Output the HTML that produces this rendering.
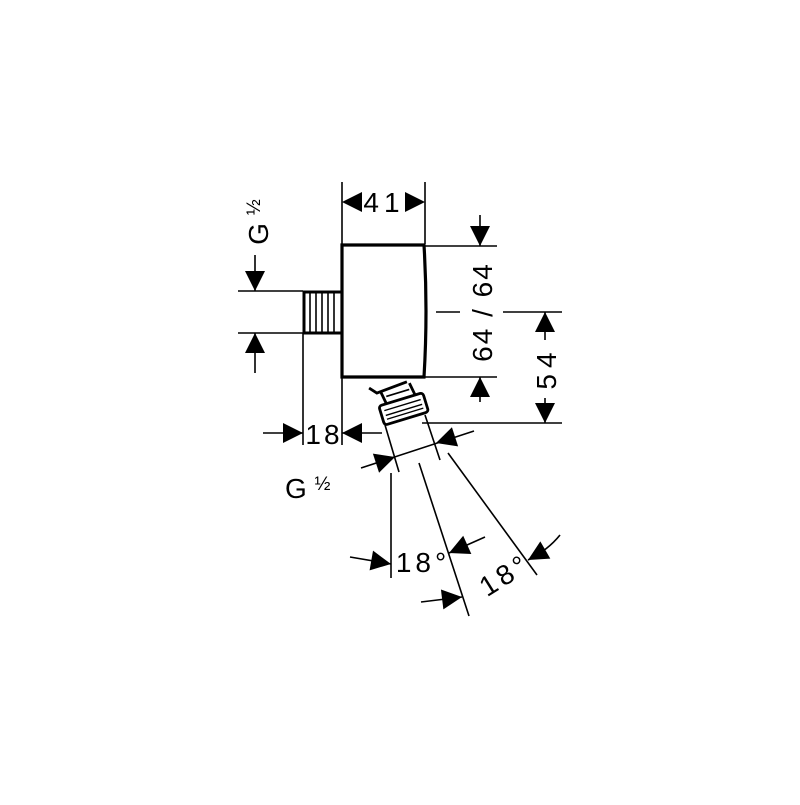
<!DOCTYPE html>
<html><head><style>html,body{margin:0;background:#fff}</style></head><body>
<svg width="800" height="800" viewBox="0 0 800 800" xmlns="http://www.w3.org/2000/svg" font-family="Liberation Sans, sans-serif">
<g stroke="#000" fill="none" stroke-width="1.6">
<path d="M342,245 L424,245 Q428,311 424,377 L342,377 Z" stroke-width="3.2"/>
<rect x="304" y="292" width="38" height="41" stroke-width="3"/>
<line x1="310" y1="293" x2="310" y2="332"/><line x1="316" y1="293" x2="316" y2="332"/><line x1="322" y1="293" x2="322" y2="332"/><line x1="328" y1="293" x2="328" y2="332"/><line x1="334" y1="293" x2="334" y2="332"/>
<g transform="rotate(-17 402 400)" stroke-width="2.8">
<path d="M374,379 L380,386 L412,384"/>
<path d="M384,386 L386,399 M414,386 L416,399"/>
<line x1="388" y1="392" x2="412" y2="392" stroke-width="1.6"/>
<rect x="378" y="399" width="46" height="20" rx="3"/>
<line x1="382" y1="405" x2="420" y2="405" stroke-width="1.4"/>
<line x1="382" y1="410" x2="420" y2="410" stroke-width="1.4"/>
<line x1="382" y1="414" x2="420" y2="414" stroke-width="1.4"/>
</g>
<line x1="342" y1="182" x2="342" y2="244"/><line x1="425" y1="182" x2="425" y2="244"/>
<line x1="425" y1="246" x2="497" y2="246"/><line x1="425" y1="377" x2="497" y2="377"/>
<line x1="480" y1="215" x2="480" y2="246"/>
<line x1="480" y1="402" x2="480" y2="377"/>
<line x1="436" y1="312" x2="460" y2="312"/><line x1="503" y1="312" x2="562" y2="312"/>
<line x1="545" y1="340" x2="545" y2="312"/>
<line x1="545" y1="398" x2="545" y2="423"/>
<line x1="422" y1="423" x2="562" y2="423"/>
<line x1="238" y1="291" x2="303" y2="291"/><line x1="238" y1="333" x2="303" y2="333"/>
<line x1="255" y1="255" x2="255" y2="291"/>
<line x1="255" y1="373" x2="255" y2="333"/>
<line x1="303" y1="333" x2="303" y2="445"/><line x1="342" y1="377" x2="342" y2="445"/>
<line x1="263" y1="433" x2="303" y2="433"/>
<line x1="382" y1="433" x2="342" y2="433"/>
<line x1="385" y1="425" x2="399" y2="472"/>
<line x1="425" y1="415" x2="440" y2="460"/>
<line x1="361" y1="468" x2="474" y2="431"/>
<line x1="391" y1="473" x2="391" y2="578"/>
<line x1="419" y1="463" x2="469" y2="616"/>
<line x1="448" y1="453" x2="537" y2="575"/>
<line x1="350" y1="557" x2="391" y2="564"/>
<line x1="485" y1="537" x2="449" y2="553"/>
<line x1="421" y1="602" x2="462" y2="597"/>
<path d="M560,535 Q548,550 528,560"/>
</g>
<g fill="#000">
<path transform="translate(342,202) rotate(180)" d="M0,0 L-20,-10 L-20,10 Z"/>
<path transform="translate(425,202)" d="M0,0 L-20,-10 L-20,10 Z"/>
<path transform="translate(480,246) rotate(90)" d="M0,0 L-20,-10 L-20,10 Z"/>
<path transform="translate(480,377) rotate(-90)" d="M0,0 L-20,-10 L-20,10 Z"/>
<path transform="translate(545,312) rotate(-90)" d="M0,0 L-20,-10 L-20,10 Z"/>
<path transform="translate(545,423) rotate(90)" d="M0,0 L-20,-10 L-20,10 Z"/>
<path transform="translate(255,291) rotate(90)" d="M0,0 L-20,-10 L-20,10 Z"/>
<path transform="translate(255,333) rotate(-90)" d="M0,0 L-20,-10 L-20,10 Z"/>
<path transform="translate(303,433)" d="M0,0 L-20,-10 L-20,10 Z"/>
<path transform="translate(342,433) rotate(180)" d="M0,0 L-20,-10 L-20,10 Z"/>
<path transform="translate(395,457) rotate(-18)" d="M0,0 L-20,-10 L-20,10 Z"/>
<path transform="translate(436,443) rotate(162)" d="M0,0 L-20,-10 L-20,10 Z"/>
<path transform="translate(391,564) rotate(10)" d="M0,0 L-20,-10 L-20,10 Z"/>
<path transform="translate(449,553) rotate(156)" d="M0,0 L-20,-10 L-20,10 Z"/>
<path transform="translate(462,597) rotate(-7)" d="M0,0 L-20,-10 L-20,10 Z"/>
<path transform="translate(528,560) rotate(150)" d="M0,0 L-20,-10 L-20,10 Z"/>
</g>
<g fill="#000" font-size="28">
<text x="384" y="212" text-anchor="middle" letter-spacing="5">41</text>
<text x="324" y="444" text-anchor="middle" letter-spacing="3">18</text>
<text x="423" y="572" text-anchor="middle" letter-spacing="4">18°</text>
<text transform="translate(510,583) rotate(-32)" text-anchor="middle" letter-spacing="4">18°</text>
<text x="285" y="498">G <tspan font-size="19" dy="-8">½</tspan></text>
<text transform="translate(492,312) rotate(-90)" text-anchor="middle" letter-spacing="2">64 / 64</text>
<text transform="translate(556,368) rotate(-90)" text-anchor="middle" letter-spacing="6">54</text>
<text transform="translate(268,222) rotate(-90)" text-anchor="middle">G <tspan font-size="19" dy="-8">½</tspan></text>
</g>
</svg>
</body></html>
